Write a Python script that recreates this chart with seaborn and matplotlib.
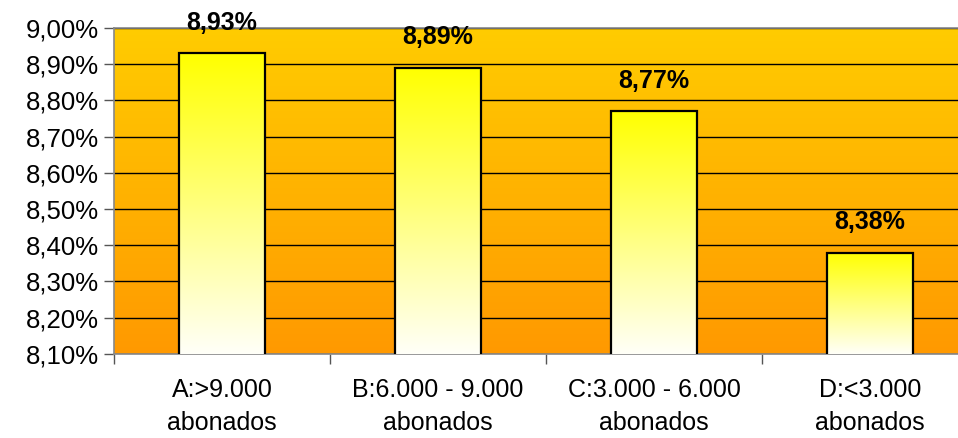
import numpy as np
import pandas as pd
import seaborn as sns
from matplotlib import pyplot as plt
from matplotlib.colors import LinearSegmentedColormap
from matplotlib.ticker import FuncFormatter, MultipleLocator

categories = ['A:>9.000\nabonados', 'B:6.000 - 9.000\nabonados',
              'C:3.000 - 6.000\nabonados', 'D:<3.000\nabonados']
values = [8.93, 8.89, 8.77, 8.38]

df = pd.DataFrame({'grupo': categories, 'valor': values})

sns.set_style('white')
plt.rcParams['font.family'] = ['Liberation Sans', 'DejaVu Sans']
plt.rcParams['text.color'] = 'black'
plt.rcParams['xtick.labelcolor'] = 'black'
plt.rcParams['ytick.labelcolor'] = 'black'

fig, ax = plt.subplots(figsize=(9.58, 4.38), dpi=100)
# plot area runs slightly past the right edge, as in the original
fig.subplots_adjust(left=0.119, right=1.021, top=0.936, bottom=0.192)

sns.barplot(data=df, x='grupo', y='valor', ax=ax, width=0.4,
            color='white', edgecolor='black', linewidth=1.6, zorder=3)

ax.set_ylim(8.1, 9.0)
ax.set_xlim(-0.5, len(categories) - 0.5)

# background gradient (orange bottom -> yellow top)
bg = LinearSegmentedColormap.from_list('bg', ['#FF9900', '#FFCC00'])
grad = np.linspace(0, 1, 256).reshape(-1, 1)
ax.imshow(grad, cmap=bg, aspect='auto', origin='lower',
          extent=[0, 1, 0, 1], transform=ax.transAxes, zorder=0)

# bar gradient (white bottom -> yellow top)
barcm = LinearSegmentedColormap.from_list('bar', ['#FFFFF8', '#FFFF00'])
for p in ax.patches:
    x0, y0 = p.get_x(), p.get_y()
    w, h = p.get_width(), p.get_height()
    im = ax.imshow(grad, cmap=barcm, aspect='auto', origin='lower',
                   extent=[x0, x0 + w, 8.1, y0 + h], zorder=3.5)
    im.set_clip_path(p)
    p.set_facecolor('none')
    p.set_zorder(4)

ax.set_xlim(-0.5, len(categories) - 0.5)
ax.set_ylim(8.1, 9.0)

ax.yaxis.set_major_locator(MultipleLocator(0.1))
ax.yaxis.set_major_formatter(FuncFormatter(lambda v, _: f'{v:.2f}%'.replace('.', ',')))
ax.grid(axis='y', color='black', linewidth=1.0, zorder=1)
ax.set_axisbelow(True)

for i, v in enumerate(values):
    ax.annotate(f'{v:.2f}%'.replace('.', ','), (i, v), xytext=(0, 22),
                textcoords='offset points', ha='center', va='center',
                fontsize=18, fontweight='bold', color='black', zorder=5)

ax.set_xlabel('')
ax.set_ylabel('')
ax.tick_params(axis='y', labelsize=18.5, length=7, width=1, color='#555555',
               left=True, direction='out', pad=4)
ax.tick_params(axis='x', which='major', length=0, labelsize=18, pad=17)
ax.set_xticks(np.arange(-0.5, len(categories)), minor=True)
ax.tick_params(axis='x', which='minor', length=7, width=1, color='#555555',
               bottom=True, direction='out')
for lbl in ax.get_xticklabels():
    lbl.set_linespacing(1.5)

for s in ['left', 'bottom', 'top']:
    ax.spines[s].set_visible(True)
    ax.spines[s].set_color('#888888')
    ax.spines[s].set_linewidth(1.2)
ax.spines['right'].set_visible(False)

fig.savefig('out.png', dpi=100)
